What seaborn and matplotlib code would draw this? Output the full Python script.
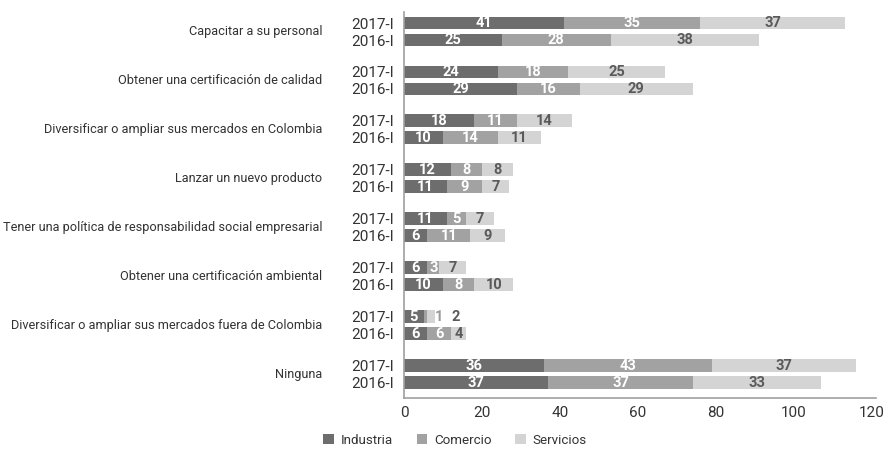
import matplotlib
matplotlib.use("Agg")
import matplotlib.pyplot as plt
from matplotlib.patches import Patch
import seaborn as sns
import pandas as pd
import numpy as np

categories = [
    "Capacitar a su personal",
    "Obtener una certificación de calidad",
    "Diversificar o ampliar sus mercados en Colombia",
    "Lanzar un nuevo producto",
    "Tener una política de responsabilidad social empresarial",
    "Obtener una certificación ambiental",
    "Diversificar o ampliar sus mercados fuera de Colombia",
    "Ninguna",
]
periods = ["2017-I", "2016-I"]
series = ["Industria", "Comercio", "Servicios"]

industria_2017 = [41, 24, 18, 12, 11, 6, 5, 36]
comercio_2017 = [35, 18, 11, 8, 5, 3, 1, 43]
servicios_2017 = [37, 25, 14, 8, 7, 7, 2, 37]
industria_2016 = [25, 29, 10, 11, 6, 10, 6, 37]
comercio_2016 = [28, 16, 14, 9, 11, 8, 6, 37]
servicios_2016 = [38, 29, 11, 7, 9, 10, 4, 33]

xticks = [0, 20, 40, 60, 80, 100, 120]

colors = ["#6d6d6d", "#a2a2a2", "#d4d4d4"]
label_colors = ["white", "white", "#5a5a5a"]

sns.set_style("white")
plt.rcParams["font.family"] = ["Roboto", "DejaVu Sans"]

GROUP = 2.88
rows = []
for i, cat in enumerate(categories):
    for j, per in enumerate(periods):
        if per == "2017-I":
            v = [industria_2017[i], comercio_2017[i], servicios_2017[i]]
        else:
            v = [industria_2016[i], comercio_2016[i], servicios_2016[i]]
        rows.append(dict(cat=cat, period=per, pos=i * GROUP + j,
                         v1=v[0], v2=v[1], v3=v[2]))
df = pd.DataFrame(rows)
df["c1"] = df["v1"]
df["c2"] = df["v1"] + df["v2"]
df["c3"] = df["v1"] + df["v2"] + df["v3"]

fig = plt.figure(figsize=(8.89, 4.51), dpi=100)
ax = fig.add_axes([404 / 889, 1 - 398 / 451, 472 / 889, (398 - 12) / 451])

# fit font size so the longest category label spans ~320 px
probe = fig.text(0, 0, max(categories, key=len), fontsize=10)
fig.canvas.draw()
w = probe.get_window_extent().width
probe.remove()
FS = min(10.5, 10 * 318 / w)
TFS = FS * 1.2

for col, c in zip(["c3", "c2", "c1"], colors[::-1]):
    sns.barplot(data=df, x=col, y="pos", orient="h", native_scale=True,
                width=0.76, color=c, saturation=1, errorbar=None,
                linewidth=0, ax=ax)

ax.set_xlim(0, 121)
ax.set_ylim((398 - 23) / 17, (12 - 23) / 17)

# value labels
for _, r in df.iterrows():
    vals = [r.v1, r.v2, r.v3]
    left = 0
    k = 0
    for s, v in enumerate(vals):
        if v <= 2:
            x = r.c3 + 1.0 + k * 4.3
            k += 1
            col = "#9a9a9a" if s < 2 else label_colors[2]
        else:
            x = left + v / 2
            col = label_colors[s]
        ax.text(x, r.pos, str(int(v)), ha="center", va="center",
                fontsize=10.5, fontweight="bold", color=col)
        left += v

# y ticks: periods
ax.set_yticks(df["pos"])
ax.set_yticklabels(df["period"], fontsize=TFS, color="#333333")
ax.tick_params(axis="y", length=0, pad=7)
ax.set_xticks(xticks)
ax.set_xticklabels([str(t) for t in xticks], fontsize=TFS, color="#333333")
ax.tick_params(axis="x", length=0, pad=6)
ax.set_xlabel("")
ax.set_ylabel("")

# category labels
for i, cat in enumerate(categories):
    ax.text(-0.170 * 480 / 472, i * GROUP + 0.5, cat, transform=ax.get_yaxis_transform(),
            ha="right", va="center", fontsize=FS, color="#333333")

for side in ["top", "right"]:
    ax.spines[side].set_visible(False)
for side in ["left", "bottom"]:
    ax.spines[side].set_color("#a0a0a0")
    ax.spines[side].set_linewidth(1.2)

handles = [Patch(facecolor=c, edgecolor="none", label=s) for s, c in zip(series, colors)]
fig.legend(handles=handles, loc="center", bbox_to_anchor=(455 / 889, 1 - 440 / 451),
           ncol=3, frameon=False, fontsize=FS * 1.05, handlelength=0.8, handleheight=0.8,
           handletextpad=0.5, columnspacing=1.8, labelcolor="#333333")

fig.savefig("out.png", dpi=100)
